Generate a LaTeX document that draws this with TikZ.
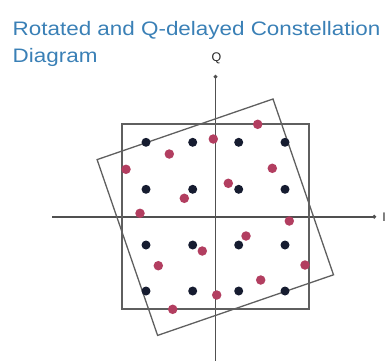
\documentclass[tikz,border=0pt]{standalone}
\usepackage{fontspec}
\setmainfont{Liberation Sans}
\usetikzlibrary{arrows.meta}
\definecolor{titleblue}{RGB}{58,128,182}
\definecolor{dotnavy}{RGB}{22,28,48}
\definecolor{dotred}{RGB}{178,62,96}
\definecolor{boxgray}{RGB}{95,95,95}
\definecolor{axisgray}{RGB}{80,80,80}
\begin{document}
\begin{tikzpicture}[x=1pt,y=-1pt,
  boxline/.style={draw=boxgray,line width=1.3pt},
  axisline/.style={draw=axisgray,line width=1.8pt,-{Circle[length=3.5pt]}},
  navydot/.style={circle,fill=dotnavy,inner sep=0pt,minimum size=9pt},
  reddot/.style={circle,fill=dotred,inner sep=0pt,minimum size=9.5pt},
  titletext/.style={anchor=base west,inner sep=0pt,text=titleblue,xscale=1.15,font=\fontsize{19.5}{19.5}\selectfont},
  axlabel/.style={font=\fontsize{12.5}{12.5}\selectfont,text=black!85,inner sep=0pt}]
\useasboundingbox (0,0) rectangle (385,360);
% title
\node[titletext] (t1) at (12.5,35.7) {Rotated and Q-delayed Constellation};
\node[titletext] (t2) at (12.5,62.7) {Diagram};
% axes
\node[axlabel] (Q) at (216.5,58) {Q};
\node[axlabel] (I) at (384,216.7) {I};
\coordinate (vtop) at (215.5,75);
\coordinate (vbot) at (215.5,362);
\coordinate (hleft) at (52,216.7);
\coordinate (hright) at (376,216.7);
\draw[axisline] (vbot) -- (vtop);
\draw[axisline] (hleft) -- (hright);
% square
\draw[boxline] (122,124) rectangle (309,309);
% rotated square
\draw[boxline] (273,99) -- (97.1,159.6) -- (157.6,335.4) -- (333.5,274.8) -- cycle;
% navy dots
\foreach \x [count=\i] in {146,192.7,238.7,285}{
  \foreach \y [count=\j] in {142.3,189.3,245,291}{
    \node[navydot] (n\i\j) at (\x,\y) {};
  }
}
% red dots
\foreach \p [count=\k] in {(257.7,124.3),(213.3,139),(169.3,154),(126,169.3),
  (272.3,168.3),(228.3,183.3),(184.3,198.3),(140,213.3),
  (289.3,221),(246,236),(202.3,251),(158.3,265.7),
  (305,265),(260.7,280),(216.7,295),(172.7,309.3)}{
  \node[reddot] (r\k) at \p {};
}
\end{tikzpicture}
\end{document}
